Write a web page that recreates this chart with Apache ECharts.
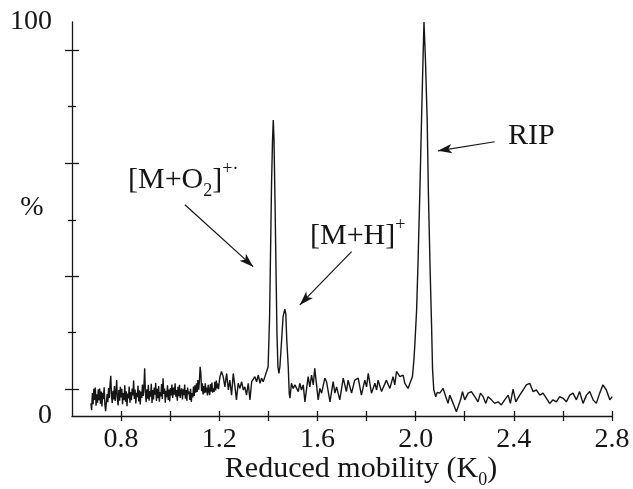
<!DOCTYPE html>
<html><head><meta charset="utf-8">
<script src="https://cdn.jsdelivr.net/npm/echarts@6/dist/echarts.min.js"></script>
<style>html,body{margin:0;padding:0;background:#fff}#c{width:633px;height:489px}</style>
</head><body><div id="c"></div>
<script>
// Reduced mobility (K0) vs relative intensity (%)
const baselineLow = [[0.677,3.2],[0.680,1.5],[0.683,5.8],[0.686,3.0],[0.689,6.9],[0.692,4.1],[0.695,7.2],[0.698,2.6],[0.701,5.5],[0.704,3.4],[0.707,6.8],[0.710,4.0],[0.713,7.0],[0.716,3.1],[0.719,6.2],[0.722,2.4],[0.725,5.9],[0.728,4.3],[0.731,7.3],[0.734,2.9],[0.737,1.2],[0.740,0.8],[0.743,5.6],[0.746,3.5],[0.749,7.1],[0.752,4.6],[0.755,8.1],[0.758,10.2],[0.761,5.0],[0.764,3.3],[0.767,6.4],[0.770,4.2],[0.773,7.6],[0.776,3.8],[0.779,6.0],[0.782,9.1],[0.785,4.4],[0.788,2.7],[0.791,6.6],[0.794,3.9],[0.797,7.4],[0.800,4.7],[0.803,6.9],[0.806,3.0],[0.809,5.8],[0.812,4.1],[0.815,7.8],[0.818,3.6],[0.821,6.3],[0.824,2.5],[0.827,5.7],[0.830,4.5],[0.833,7.5],[0.836,3.4],[0.839,6.1],[0.842,4.0],[0.845,7.0],[0.848,5.2],[0.851,9.0],[0.854,4.3],[0.857,6.7],[0.860,3.2],[0.863,5.9],[0.866,4.8],[0.869,7.7],[0.872,3.7],[0.875,6.5],[0.878,2.9],[0.881,6.2],[0.884,4.6],[0.887,8.0],[0.890,5.1],[0.893,7.3],[0.896,12.1],[0.899,6.0],[0.902,3.5],[0.905,6.8],[0.908,4.4],[0.911,7.9],[0.914,3.9],[0.917,6.3],[0.920,4.9],[0.923,8.2],[0.926,3.3],[0.929,6.6],[0.932,4.2],[0.935,7.2],[0.938,5.4],[0.941,8.4],[0.944,3.8],[0.947,6.9],[0.950,4.5],[0.953,7.6],[0.956,3.6],[0.959,6.1],[0.962,5.0],[0.965,8.1],[0.968,4.3],[0.971,9.6],[0.974,5.6],[0.977,7.0],[0.980,3.4],[0.983,6.4],[0.986,4.8],[0.989,7.8],[0.992,4.1],[0.995,6.7],[0.998,3.7],[1.001,7.1],[1.004,5.2],[1.007,8.0],[1.010,4.6],[1.014,7.2],
[1.017,5.4],[1.020,8.3],[1.023,4.9],[1.026,6.6],[1.029,3.9],[1.032,7.4],[1.035,5.0],[1.038,7.9],[1.041,4.6],[1.044,6.4],[1.047,7.0],[1.050,4.2],[1.053,6.8],[1.056,5.3],[1.059,8.0],[1.062,4.4],[1.065,6.6],[1.068,3.9],[1.071,7.2],[1.074,5.6],[1.077,6.2],[1.080,4.1],[1.083,6.9],[1.086,3.6],[1.089,5.8],[1.092,4.7],[1.095,7.5],[1.098,5.1],[1.101,7.8],[1.104,5.9],[1.107,8.3],[1.110,6.1],[1.113,9.1],[1.116,6.7],[1.119,8.8],[1.122,12.5],[1.125,10.8],[1.128,6.3],[1.131,8.3],[1.134,5.5],[1.137,7.6],[1.140,5.8],[1.143,8.3],[1.146,6.0],[1.149,7.2],[1.152,5.2],[1.155,7.9],[1.158,6.4],[1.161,5.3],[1.164,8.1],[1.167,6.2],[1.170,8.5],[1.173,5.9],[1.176,7.0],[1.179,6.1],[1.182,8.7],[1.185,6.5],[1.188,9.0],[1.191,7.0],[1.194,8.2],[1.197,6.8],[1.200,8.7],
[1.203,10.0],[1.209,11.3],[1.216,10.0],[1.223,7.4],[1.230,10.8],[1.237,6.6],[1.243,9.1],[1.250,5.3],[1.257,10.8],[1.264,7.4],[1.270,4.1],[1.277,8.3],[1.284,7.0],[1.291,8.7],[1.298,6.6],[1.304,7.4],[1.311,5.3],[1.318,8.3],[1.325,4.1],[1.332,8.7],[1.338,9.1]];
const peaksO2H = [[1.345,10.0],[1.352,8.7],[1.359,10.4],[1.366,8.3],[1.372,9.6],[1.379,8.7],[1.386,10.0],[1.393,10.4],[1.399,12.5],[1.405,25.2],[1.409,42.1],[1.413,59.1],[1.417,70.1],[1.420,75.1],[1.423,70.1],[1.427,54.8],[1.431,37.9],[1.435,21.0],[1.439,12.5],[1.443,10.8],[1.447,12.5],[1.454,19.3],[1.460,25.2],[1.467,27.1],[1.471,26.0],[1.475,19.3],[1.481,12.5],[1.485,5.8]];
const baselineMid = [[1.488,4.5],[1.494,8.3],[1.501,7.0],[1.508,7.9],[1.522,6.2],[1.528,8.3],[1.535,6.6],[1.542,7.9],[1.549,3.6],[1.562,10.0],[1.569,7.4],[1.576,10.4],[1.583,7.9],[1.589,12.1],[1.603,4.1],[1.610,7.0],[1.617,5.8],[1.630,9.6],[1.637,8.7],[1.651,3.6],[1.664,8.7],[1.671,5.8],[1.678,7.4],[1.691,4.1],[1.705,9.6],[1.718,6.2],[1.725,9.1],[1.739,5.8],[1.752,9.1],[1.766,9.6],[1.779,5.3],[1.793,9.1],[1.800,7.4],[1.807,10.8],[1.820,5.8],[1.834,8.3],[1.841,6.6],[1.847,9.1],[1.861,6.2],[1.881,9.1],[1.895,7.0],[1.908,10.0],[1.915,7.9],[1.922,11.3],[1.936,10.0],[1.949,10.4],[1.956,8.3],[1.969,7.0],[1.976,6.6]];
const peakRIP = [[1.987,10.0],[1.993,14.2],[1.997,18.4],[2.004,26.9],[2.010,39.6],[2.017,56.5],[2.024,75.1],[2.030,90.4],[2.034,100],[2.040,90.4],[2.047,75.1],[2.052,56.5],[2.059,37.1],[2.065,22.7],[2.069,11.7],[2.074,6.6],[2.082,4.9],[2.088,6.0]];
const baselineHigh = [[2.098,5.8],[2.112,7.0],[2.123,4.9],[2.132,3.2],[2.139,5.3],[2.153,3.2],[2.166,1.1],[2.173,0.7],[2.183,4.1],[2.191,6.2],[2.200,4.1],[2.214,5.8],[2.227,6.2],[2.241,4.9],[2.254,3.6],[2.264,5.8],[2.275,4.9],[2.286,3.2],[2.295,4.9],[2.309,4.1],[2.322,3.2],[2.336,3.6],[2.349,2.8],[2.363,4.1],[2.377,5.3],[2.386,3.2],[2.397,6.8],[2.408,3.6],[2.424,5.3],[2.438,6.6],[2.451,7.9],[2.465,8.3],[2.478,6.2],[2.492,6.6],[2.506,5.3],[2.519,5.8],[2.533,4.5],[2.546,3.2],[2.560,4.1],[2.573,3.6],[2.587,4.9],[2.601,4.5],[2.614,3.6],[2.628,5.3],[2.641,5.8],[2.655,4.1],[2.668,6.2],[2.682,3.2],[2.696,5.3],[2.709,6.2],[2.723,4.1],[2.736,3.2],[2.750,5.8],[2.763,7.9],[2.777,6.6],[2.791,4.1],[2.801,4.9]];

const xTickValues = [0.8,1.0,1.2,1.4,1.6,1.8,2.0,2.2,2.4,2.6,2.8];
const xLabelValues = [0.8,1.2,1.6,2.0,2.4,2.8];
const yLabelValues = [0,100];
const yMajorTicks = [6.85,35.5,64.1,92.9];
const yMinorTicks = [21.2,49.7,78.5];

// annotation arrows [from, to] in data coordinates
const arrowO2 = [[1.060,53.6],[1.338,37.9]];
const arrowMH = [[1.739,41.7],[1.528,28.2]];
const arrowRIP = [[2.322,69.6],[2.091,67.3]];

const spectrum = baselineLow.concat(peaksO2H, baselineMid, peakRIP, baselineHigh);

const ink = '#151515';
const serif = '"Liberation Serif", "Times New Roman", serif';
const axLine = {color: ink, width: 1.3};

function yAx(ticks, inside, len, showLine, showLabel) {
  return {
    type: 'value', min: 0, max: 100, position: 'left',
    axisLine: {show: showLine, onZero: false, lineStyle: axLine},
    axisTick: {show: true, inside: inside, length: len, customValues: ticks, lineStyle: axLine},
    axisLabel: {show: showLabel, customValues: yLabelValues, fontFamily: serif, fontSize: 28, color: ink, margin: 20},
    splitLine: {show: false}
  };
}
function xAx(inside, len, showLine, showLabel) {
  return {
    type: 'value', min: 0.6, max: 2.8, position: 'bottom',
    axisLine: {show: showLine, onZero: false, lineStyle: axLine},
    axisTick: {show: true, inside: inside, length: len, customValues: xTickValues, lineStyle: axLine},
    axisLabel: {show: showLabel, customValues: xLabelValues, formatter: v => v.toFixed(1), fontFamily: serif, fontSize: 28, color: ink, margin: 10},
    splitLine: {show: false}
  };
}

const chart = echarts.init(document.getElementById('c'), null, {renderer: 'canvas'});
chart.setOption({
  animation: false,
  backgroundColor: '#fff',
  grid: {left: 72, right: 21, top: 22, bottom: 73, containLabel: false, outerBoundsMode: 'none'},
  xAxis: [xAx(true, 5, true, true), xAx(false, 5, false, false)],
  yAxis: [yAx(yMajorTicks, false, 7, true, true), yAx(yMajorTicks, true, 7, false, false),
          yAx(yMinorTicks, false, 4, false, false), yAx(yMinorTicks, true, 4, false, false)],
  series: [{
    type: 'line', data: spectrum, showSymbol: false, symbol: 'none',
    lineStyle: {color: ink, width: 1.4}, xAxisIndex: 0, yAxisIndex: 0,
    markLine: {
      silent: true, animation: false, symbol: ['none', 'arrow'], symbolSize: [7, 14],
      lineStyle: {color: ink, width: 1.2, type: 'solid'}, label: {show: false},
      emphasis: {disabled: true},
      data: [arrowO2, arrowMH, arrowRIP].map(a => [{coord: a[0]}, {coord: a[1]}])
    }
  }],
  graphic: [
    {type: 'text', x: 32, y: 208, style: {text: '%', font: '28px "Liberation Serif"', fill: ink, align: 'center', verticalAlign: 'middle'}},
    {type: 'text', x: 361, y: 469, style: {text: 'Reduced mobility (K{sub|0})', font: '30px "Liberation Serif"', fill: ink, align: 'center', verticalAlign: 'middle',
      rich: {sub: {fontSize: 18, fontFamily: 'Liberation Serif', fill: ink, verticalAlign: 'bottom', lineHeight: 40}}}},
    {type: 'text', x: 128, y: 180, style: {text: '[M+O{sub|2}]{sup|+·}', font: '30px "Liberation Serif"', fill: ink, align: 'left', verticalAlign: 'middle',
      rich: {sub: {fontSize: 18, fontFamily: 'Liberation Serif', fill: ink, verticalAlign: 'bottom', lineHeight: 40}, sup: {fontSize: 18, fontFamily: 'Liberation Serif', fill: ink, verticalAlign: 'top', lineHeight: 40}}}},
    {type: 'text', x: 310, y: 236, style: {text: '[M+H]{sup|+}', font: '30px "Liberation Serif"', fill: ink, align: 'left', verticalAlign: 'middle',
      rich: {sup: {fontSize: 18, fontFamily: 'Liberation Serif', fill: ink, verticalAlign: 'top', lineHeight: 40}}}},
    {type: 'text', x: 508, y: 136, style: {text: 'RIP', font: '30px "Liberation Serif"', fill: ink, align: 'left', verticalAlign: 'middle'}}
  ]
});
</script></body></html>
